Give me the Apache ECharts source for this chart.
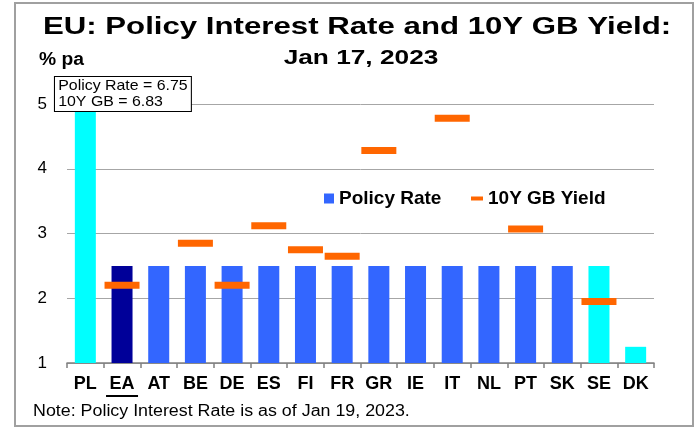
<!DOCTYPE html>
<html><head><meta charset="utf-8">
<script src="https://cdn.jsdelivr.net/npm/echarts@6/dist/echarts.min.js"></script>
<style>html,body{margin:0;padding:0;background:#fff}#c{width:697px;height:428px}</style>
</head><body><div id="c"></div>
<script>
const categories = ['PL','EA','AT','BE','DE','ES','FI','FR','GR','IE','IT','NL','PT','SK','SE','DK'];
const policyRate = [6.75,2.5,2.5,2.5,2.5,2.5,2.5,2.5,2.5,2.5,2.5,2.5,2.5,2.5,2.5,1.25];
const gbYield = [6.83,2.2,'-',2.85,2.2,3.12,2.75,2.65,4.28,'-',4.78,'-',3.07,'-',1.95,'-'];
const yMin = 1, yMax = 5, yStep = 1;
const titleLine1 = 'EU: Policy Interest Rate and 10Y GB Yield:';
const titleLine2 = 'Jan 17, 2023';
const unitLabel = '% pa';
const noteText = 'Note: Policy Interest Rate is as of Jan 19, 2023.';
const seriesNames = ['Policy Rate', '10Y GB Yield'];

const FONT = '"Liberation Sans", Arial, sans-serif';
const barColorMap = {PL:'#00FFFF', EA:'#000099', SE:'#00FFFF', DK:'#00FFFF'};
const defaultBar = '#3366FF';

function txt(x, y, text, font, align, vAlign, sx, extra) {
  return Object.assign({type: 'text', x: x, y: y, scaleX: sx || 1, silent: true,
    style: Object.assign({text: text, font: font, fill: '#000',
      align: align, verticalAlign: vAlign, textAlign: align, textVerticalAlign: vAlign}, extra || {})});
}

const chart = echarts.init(document.getElementById('c'), null, {renderer:'canvas'});
const option = {
  animation: false,
  backgroundColor: '#fff',
  textStyle: {fontFamily: FONT},
  grid: {left: 67, right: 43, top: 104, bottom: 65},
  legend: [
    {data: [{name: seriesNames[0], icon: 'rect'}], left: 324, top: 189, padding: 0,
     itemWidth: 10, itemHeight: 10, selectedMode: false,
     textStyle: {fontFamily: FONT, fontSize: 19, fontWeight: 'bold', color: '#000'}},
    {data: [{name: seriesNames[1], icon: 'rect'}], left: 471, top: 189, padding: 0,
     itemWidth: 12, itemHeight: 4, selectedMode: false,
     textStyle: {fontFamily: FONT, fontSize: 19, fontWeight: 'bold', color: '#000'}}
  ],
  xAxis: {
    type: 'category', data: categories,
    axisLine: {lineStyle: {color: '#808080', width: 1.5}},
    axisTick: {show: true, length: 5, lineStyle: {color: '#808080', width: 1.5}},
    axisLabel: {
      interval: 0, margin: 12, color: '#000', fontFamily: FONT, fontSize: 18, fontWeight: 'bold',
      formatter: v => v === 'EA' ? '{a|' + v + '}\n{u| }' : v,
      rich: {
        a: {fontFamily: FONT, fontSize: 18, fontWeight: 'bold', color: '#000'},
        u: {width: 32, height: 2, lineHeight: 6, backgroundColor: '#000', fontSize: 2}
      }
    }
  },
  yAxis: {
    type: 'value', min: yMin, max: yMax, interval: yStep,
    axisLine: {show: false}, axisTick: {show: false},
    axisLabel: {margin: 20, color: '#000', fontFamily: FONT, fontSize: 17},
    splitLine: {lineStyle: {color: '#A6A6A6', width: 1}}
  },
  series: [
    {name: seriesNames[0], type: 'bar', barWidth: 21, clip: true,
     itemStyle: {color: defaultBar},
     data: policyRate.map((v, i) => ({value: v, itemStyle: {color: barColorMap[categories[i]] || defaultBar}}))},
    {name: seriesNames[1], type: 'scatter', clip: true, symbol: 'rect', symbolSize: [35, 7],
     itemStyle: {color: '#FF6600', opacity: 1}, z: 5, data: gbYield}
  ],
  graphic: [
    {type: 'rect', silent: true, shape: {x: 15, y: 3, width: 678, height: 423},
     style: {fill: 'none', stroke: '#A0A0A0', lineWidth: 2}},
    txt(357, 27, titleLine1, 'bold 24px ' + FONT, 'center', 'middle', 1.3),
    txt(361, 58, titleLine2, 'bold 21px ' + FONT, 'center', 'middle', 1.25),
    txt(39, 60, unitLabel, 'bold 18px ' + FONT, 'left', 'middle', 1.07),
    txt(33, 412, noteText, '16px ' + FONT, 'left', 'middle', 1.115),
    Object.assign(txt(55, 77,
      'Policy Rate = ' + policyRate[0].toFixed(2) + '\n10Y GB = ' + gbYield[0].toFixed(2),
      '15px ' + FONT, 'left', 'top', 1.06,
      {lineHeight: 16, backgroundColor: '#fff', borderColor: '#000', borderWidth: 1, padding: [1, 3, 1, 3]}),
      {z: 100})
  ]
};
chart.setOption(option);
</script></body></html>
